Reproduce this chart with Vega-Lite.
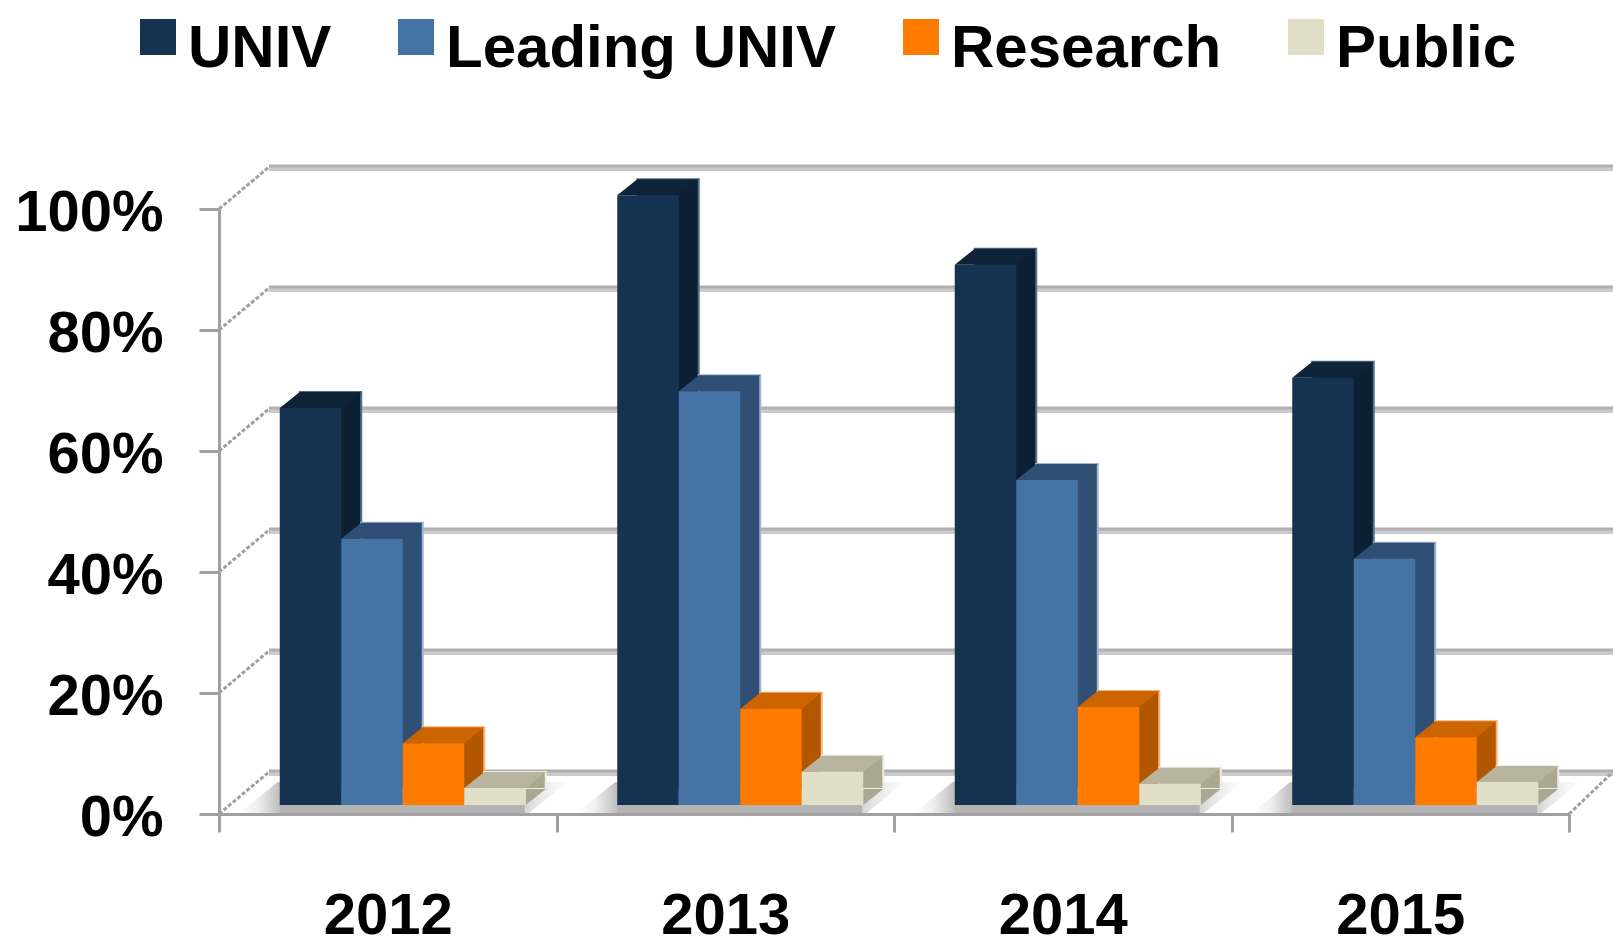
{
"$schema":"https://vega.github.io/schema/vega-lite/v6.json",
"width":1350,"height":605,
"autosize":"none",
"padding":{"left":219,"top":209,"right":44,"bottom":129},
"background":"white",
"config":{"view":{"stroke":null},"font":"Liberation Sans"},
"datasets":{
"bars":[
{"year":"2012","series":"UNIV","value":65.6},{"year":"2012","series":"Leading UNIV","value":44},{"year":"2012","series":"Research","value":10.2},{"year":"2012","series":"Public","value":2.8},
{"year":"2013","series":"UNIV","value":100.8},{"year":"2013","series":"Leading UNIV","value":68.4},{"year":"2013","series":"Research","value":15.9},{"year":"2013","series":"Public","value":5.5},
{"year":"2014","series":"UNIV","value":89.3},{"year":"2014","series":"Leading UNIV","value":53.7},{"year":"2014","series":"Research","value":16.2},{"year":"2014","series":"Public","value":3.5},
{"year":"2015","series":"UNIV","value":70.6},{"year":"2015","series":"Leading UNIV","value":40.7},{"year":"2015","series":"Research","value":11.2},{"year":"2015","series":"Public","value":3.8}],
"ticks":[{"tick":0},{"tick":20},{"tick":40},{"tick":60},{"tick":80},{"tick":100}],
"years":[{"year":"2012"},{"year":"2013"},{"year":"2014"},{"year":"2015"}]
},
"layer":[
{"data":{"name":"ticks"},"mark":{"type":"point","shape":"M50,-40 L1420,-40","size":4,"filled":false,"stroke":"#cacaca","strokeWidth":4,"opacity":1},"encoding":{"x":{"datum":"2012","type":"nominal","bandPosition":0},"y":{"field":"tick","type":"quantitative","scale":{"domain":[0,100],"nice":false},"axis":{"values":[0,20,40,60,80,100],"format":"d","labelExpr":"datum.value + '%'","title":null,"grid":false,"domainColor":"#a0a0a0","domainWidth":3,"tickColor":"#a0a0a0","tickWidth":3,"tickSize":20,"labelPadding":36,"labelOffset":4,"labelFont":"Liberation Sans","labelFontWeight":"bold","labelFontSize":58,"labelColor":"#000000","zindex":1}}}},
{"data":{"name":"ticks"},"mark":{"type":"point","shape":"M50,-43 L1420,-43","size":4,"filled":false,"stroke":"#b0b0b0","strokeWidth":3,"opacity":1},"encoding":{"x":{"datum":"2012","type":"nominal","bandPosition":0},"y":{"field":"tick","type":"quantitative"}}},
{"data":{"name":"ticks"},"mark":{"type":"point","shape":"M0,0 L50,-42","size":4,"filled":false,"stroke":"#a0a0a0","strokeWidth":3,"strokeDash":[4,2],"opacity":1},"encoding":{"x":{"datum":"2012","type":"nominal","bandPosition":0},"y":{"field":"tick","type":"quantitative"}}},
{"data":{"name":"ticks"},"transform":[{"filter":"datum.tick == 0"}],"mark":{"type":"point","shape":"M0,0 L44,-42","size":4,"filled":false,"stroke":"#a0a0a0","strokeWidth":3,"strokeDash":[4,2],"opacity":1},"encoding":{"x":{"datum":"2015","type":"nominal","bandPosition":1},"y":{"field":"tick","type":"quantitative"}}},
{"data":{"name":"years"},"mark":{"type":"point","shape":"M-150,0 L140,0 L180,-32 L-110,-32 Z","size":4,"filled":true,"opacity":1,"strokeWidth":0,"fill":{"gradient":"linear","x1":0,"x2":1,"y1":0,"y2":0,"stops":[{"offset":0,"color":"#ffffff"},{"offset":0.06,"color":"#f0f0f0"},{"offset":0.14,"color":"#b4b4b4"},{"offset":0.8,"color":"#b4b4b4"},{"offset":0.9,"color":"#e4e4e4"},{"offset":1,"color":"#ffffff"}]}},"encoding":{"x":{"field":"year","type":"nominal","sort":null,"scale":{"paddingInner":0,"paddingOuter":0},"axis":{"title":null,"labelAngle":0,"labelAlign":"center","tickBand":"extent","domainColor":"#a0a0a0","domainWidth":3,"tickColor":"#a0a0a0","tickWidth":3,"tickSize":18,"labelPadding":84,"labelFont":"Liberation Sans","labelFontWeight":"bold","labelFontSize":58,"labelColor":"#000000","zindex":1}},"y":{"datum":0,"type":"quantitative"}}},
{"data":{"name":"years"},"mark":{"type":"point","shape":"M-108,0 L137,0 L137,-9 L-108,-9 Z","size":4,"filled":true,"opacity":1,"strokeWidth":0,"fill":"#b4b4b4"},"encoding":{"x":{"field":"year","type":"nominal"},"y":{"datum":0,"type":"quantitative"}}},
{"data":{"name":"bars"},"mark":{"type":"bar","yOffset":-25,"y2Offset":-25,"strokeWidth":2},"encoding":{"x":{"field":"year","type":"nominal"},"xOffset":{"field":"series","type":"nominal","sort":["UNIV","Leading UNIV","Research","Public"],"scale":{"paddingInner":0,"paddingOuter":0,"range":[80.75,326.75]}},"y":{"field":"value","type":"quantitative"},"y2":{"datum":0},"stroke":{"field":"series","type":"nominal","scale":{"domain":["UNIV","Leading UNIV","Research","Public"],"range":["#56708c","#9fb5d0","#ffb27a","#efecdc"]},"legend":null},"color":{"field":"series","type":"nominal","scale":{"domain":["UNIV","Leading UNIV","Research","Public"],"range":["#0c2033","#2f4f75","#b35600","#aba892"]},"legend":null}}},
{"data":{"name":"bars"},"mark":{"type":"point","shape":"M30.75,0 L50.75,-16 L30.75,-16 Z","size":4,"filled":true,"opacity":1,"strokeWidth":0,"yOffset":-9},"encoding":{"x":{"field":"year","type":"nominal"},"xOffset":{"field":"series","type":"nominal","sort":["UNIV","Leading UNIV","Research","Public"],"scale":{"type":"point","padding":0,"range":[91.5,276]}},"y":{"datum":0,"type":"quantitative"},"color":{"field":"series","type":"nominal","scale":{"domain":["UNIV","Leading UNIV","Research","Public"],"range":["#0c2033","#2f4f75","#b35600","#aba892"]},"legend":null}}},
{"data":{"name":"bars"},"mark":{"type":"point","shape":"M-30.75,0 L30.75,0 L50.75,-16 L-10.75,-16 Z","size":4,"filled":true,"opacity":1,"strokeWidth":0,"yOffset":-9},"encoding":{"x":{"field":"year","type":"nominal"},"xOffset":{"field":"series","type":"nominal","sort":["UNIV","Leading UNIV","Research","Public"],"scale":{"type":"point","padding":0,"range":[91.5,276]}},"y":{"field":"value","type":"quantitative"},"color":{"field":"series","type":"nominal","scale":{"domain":["UNIV","Leading UNIV","Research","Public"],"range":["#0e2338","#2e4e74","#cc6400","#b8b4a0"]},"legend":null}}},
{"data":{"name":"bars"},"mark":{"type":"bar","yOffset":-9,"y2Offset":-9},"encoding":{"x":{"field":"year","type":"nominal"},"xOffset":{"field":"series","type":"nominal","sort":["UNIV","Leading UNIV","Research","Public"],"scale":{"paddingInner":0,"paddingOuter":0,"range":[60.75,306.75]}},"y":{"field":"value","type":"quantitative"},"y2":{"datum":0},"color":{"field":"series","type":"nominal","scale":{"domain":["UNIV","Leading UNIV","Research","Public"],"range":["#153251","#4673a5","#ff7b00","#e2dfc9"]},"legend":{"title":null,"orient":"none","legendX":-91,"legendY":-190,"direction":"horizontal","columns":4,"columnPadding":54,"symbolType":"M-1,-1.67 L1,-1.67 L1,0.33 L-1,0.33 Z","symbolSize":1296,"symbolStrokeWidth":0,"symbolOpacity":1,"labelFont":"Liberation Sans","labelFontWeight":"bold","labelFontSize":60,"labelColor":"#000000","labelOffset":0,"labelLimit":500}}}}
],
"resolve":{"scale":{"color":"independent","stroke":"independent","xOffset":"independent"}}
}
